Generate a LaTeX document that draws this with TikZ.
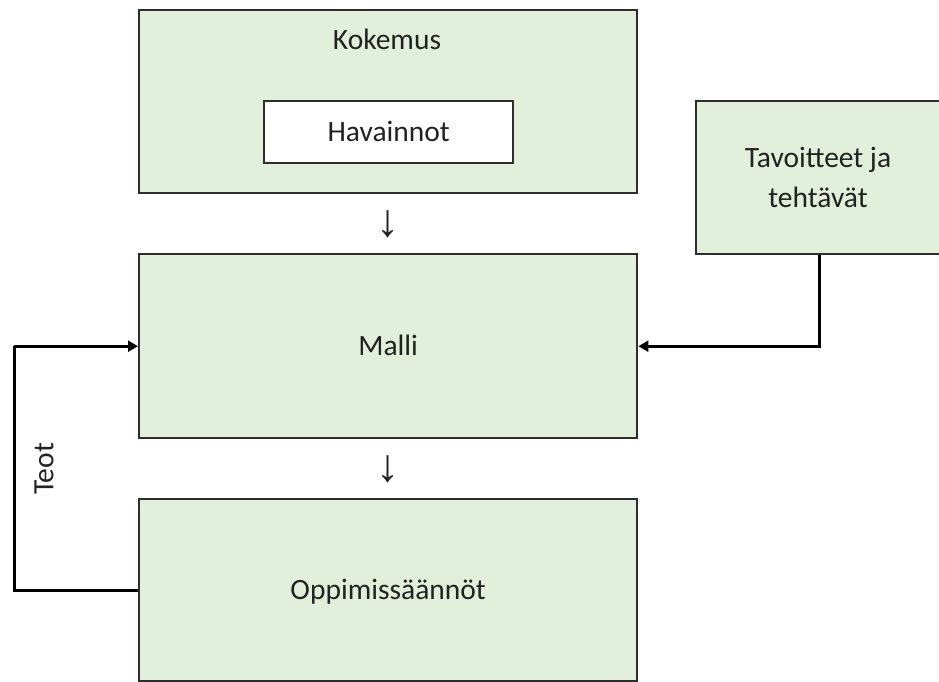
\documentclass[tikz,border=0pt]{standalone}
\usepackage{fontspec}
\setmainfont{Carlito}
\newfontfamily\arrowfont{Liberation Sans}
\usetikzlibrary{arrows.meta}
\definecolor{boxfill}{HTML}{E2EFDA}
\definecolor{boxline}{HTML}{2E2E2E}
\definecolor{txt}{HTML}{222222}
\begin{document}
\begin{tikzpicture}[x=1pt,y=-1pt,
  font=\fontsize{29.5}{40}\selectfont,
  box/.style={draw=boxline, line width=2.4pt, fill=boxfill, inner sep=0pt,
    anchor=north west, text=txt, text height=19pt, text depth=0pt},
  lbl/.style={text=txt, inner sep=0pt},
  arr/.style={text=txt, inner sep=0pt, font=\arrowfont\fontsize{46}{50}\selectfont},
  conn/.style={draw=black, line width=3pt, -{Triangle[length=10pt,width=11pt]}},
  plain/.style={draw=black, line width=3pt}
]
\useasboundingbox (0,0) rectangle (939,682);
% boxes
\node[box, minimum width=498pt, minimum height=183pt] (kok) at (138,9) {};
\node[lbl, anchor=base] (koklbl) at (387,50) {Kokemus};
\node[box, fill=white, minimum width=249pt, minimum height=62pt] (hav) at (263,100) {Havainnot};
\node[box, minimum width=498pt, minimum height=184pt] (malli) at (138,253) {Malli};
\node[box, minimum width=498pt, minimum height=182pt] (opp) at (138,498) {Oppimissäännöt};
\node[box, minimum width=246pt, minimum height=153pt] (tav) at (695,100) {};
\node[lbl, align=center, anchor=base] (tavlbl) at (818,207) {Tavoitteet ja\\tehtävät};
% down arrows (text glyphs)
\node[arr] (ar1) at (388,224.5) {↓};
\node[arr] (ar2) at (388,469) {↓};
% connectors
\coordinate (lc) at (14,0);
\draw[conn] (tav.south) |- (malli.east);
\draw[plain] (opp.west) -- (opp.west -| lc) -- (malli.west -| lc);
\draw[conn] (malli.west -| lc) -- (malli.west);
\node[lbl, rotate=90] (teot) at (44,469) {Teot};
\end{tikzpicture}
\end{document}
